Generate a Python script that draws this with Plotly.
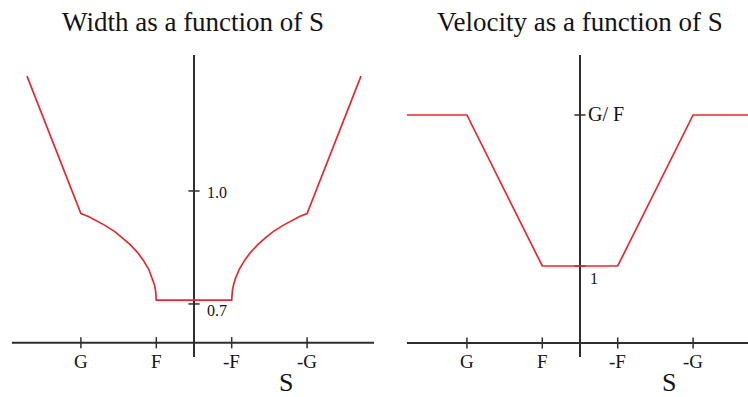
import plotly.graph_objects as go

# --- data -------------------------------------------------------------
# S positions of the marked values on the horizontal axes
s_tick_pos = [-3, -1, 1, 3]
s_tick_labels = ["G", "F", "-F", "-G"]

# Width as a function of S
width_s = [-4.43, -3.0, -2.8, -2.6, -2.35, -2.1, -1.9, -1.7, -1.5, -1.35, -1.2, -1.1, -1.05, -1.02, -1.01, -1.0,
           1.0, 1.01, 1.02, 1.05, 1.1, 1.2, 1.35, 1.5, 1.7, 1.9, 2.1, 2.35, 2.6, 2.8, 3.0, 4.43]
width_w = [1.305, 0.940, 0.932, 0.922, 0.908, 0.892, 0.876, 0.858, 0.837, 0.817, 0.792, 0.768, 0.751, 0.736, 0.728, 0.710,
           0.710, 0.728, 0.736, 0.751, 0.768, 0.792, 0.817, 0.837, 0.858, 0.876, 0.892, 0.908, 0.922, 0.932, 0.940, 1.305]
width_tick_vals = [1.0, 0.7]
width_tick_labels = ["1.0", "0.7"]

# Velocity as a function of S
vel_s = [-4.59, -3.0, -1.0, 1.0, 3.0, 4.6]
vel_v = [3.0, 3.0, 1.0, 1.0, 3.0, 3.0]
vel_tick_vals = [3.0, 1.0]
vel_tick_labels = ["G/ F", "1"]

# --- styling ----------------------------------------------------------
AXIS_COLOR = "#2e2e2e"
CURVE_COLOR = "#e8282e"
TEXT_COLOR = "#141414"
SERIF = "Liberation Serif, Times New Roman, serif"

fig = go.Figure()


def add_panel(xa, ya, h_span, h_level, v_span, curve_x, curve_y, ytick_vals):
    # horizontal S axis
    fig.add_trace(go.Scatter(x=h_span, y=[h_level, h_level], mode="lines",
                             line=dict(color=AXIS_COLOR, width=2),
                             xaxis=xa, yaxis=ya, hoverinfo="skip"))
    # vertical axis through S = 0
    fig.add_trace(go.Scatter(x=[0, 0], y=v_span, mode="lines",
                             line=dict(color=AXIS_COLOR, width=2),
                             xaxis=xa, yaxis=ya, hoverinfo="skip"))
    # tick marks on the S axis
    fig.add_trace(go.Scatter(x=s_tick_pos, y=[h_level] * len(s_tick_pos), mode="markers",
                             marker=dict(symbol="line-ns", size=8,
                                         line=dict(color=AXIS_COLOR, width=1.5)),
                             xaxis=xa, yaxis=ya, hoverinfo="skip"))
    # tick marks on the vertical axis
    fig.add_trace(go.Scatter(x=[0] * len(ytick_vals), y=ytick_vals, mode="markers",
                             marker=dict(symbol="line-ew", size=8,
                                         line=dict(color=AXIS_COLOR, width=1.5)),
                             xaxis=xa, yaxis=ya, hoverinfo="skip"))
    # the curve
    fig.add_trace(go.Scatter(x=curve_x, y=curve_y, mode="lines",
                             line=dict(color=CURVE_COLOR, width=1.7),
                             xaxis=xa, yaxis=ya, hoverinfo="skip"))


add_panel("x", "y", [-4.83, 4.83], 0.597, [1.361, 0.559], width_s, width_w, width_tick_vals)
add_panel("x2", "y2", [-4.59, 4.6], -0.02, [3.795, -0.205], vel_s, vel_v, vel_tick_vals)

annotations = []
# S axis labels
for xr, yr, level in (("x", "y", 0.597), ("x2", "y2", -0.02)):
    for pos, lab in zip(s_tick_pos, s_tick_labels):
        annotations.append(dict(x=pos, y=level, xref=xr, yref=yr, text=lab, showarrow=False,
                                xanchor="center", yanchor="top", yshift=-6,
                                font=dict(family=SERIF, size=19, color=TEXT_COLOR)))

# vertical axis labels, left panel
annotations.append(dict(x=0, y=width_tick_vals[0], xref="x", yref="y", text=width_tick_labels[0],
                        showarrow=False, xanchor="left", yanchor="middle", xshift=11, yshift=-2,
                        font=dict(family=SERIF, size=16, color=TEXT_COLOR)))
annotations.append(dict(x=0, y=width_tick_vals[1], xref="x", yref="y", text=width_tick_labels[1],
                        showarrow=False, xanchor="left", yanchor="middle", xshift=11, yshift=-7,
                        font=dict(family=SERIF, size=16, color=TEXT_COLOR)))
# vertical axis labels, right panel
annotations.append(dict(x=0, y=vel_tick_vals[0], xref="x2", yref="y2", text=vel_tick_labels[0],
                        showarrow=False, xanchor="left", yanchor="middle", xshift=6, yshift=1,
                        font=dict(family=SERIF, size=20, color=TEXT_COLOR)))
annotations.append(dict(x=0, y=vel_tick_vals[1], xref="x2", yref="y2", text=vel_tick_labels[1],
                        showarrow=False, xanchor="left", yanchor="middle", xshift=8, yshift=-12,
                        font=dict(family=SERIF, size=16, color=TEXT_COLOR)))

# "S" axis titles
annotations.append(dict(x=286 / 748, y=1 - 382 / 397, xref="paper", yref="paper", text="S",
                        showarrow=False, xanchor="center", yanchor="middle",
                        font=dict(family=SERIF, size=26, color=TEXT_COLOR)))
annotations.append(dict(x=669 / 748, y=1 - 382 / 397, xref="paper", yref="paper", text="S",
                        showarrow=False, xanchor="center", yanchor="middle",
                        font=dict(family=SERIF, size=26, color=TEXT_COLOR)))

# panel titles
annotations.append(dict(x=193.5 / 748, y=1 - 22 / 397, xref="paper", yref="paper",
                        text="Width as a function of S", showarrow=False,
                        xanchor="center", yanchor="middle",
                        font=dict(family=SERIF, size=27, color=TEXT_COLOR)))
annotations.append(dict(x=580 / 748, y=1 - 22 / 397, xref="paper", yref="paper",
                        text="Velocity as a function of S", showarrow=False,
                        xanchor="center", yanchor="middle",
                        font=dict(family=SERIF, size=27, color=TEXT_COLOR)))

hidden = dict(visible=False, fixedrange=True)
fig.update_layout(
    width=748, height=397,
    margin=dict(l=0, r=0, t=0, b=0),
    paper_bgcolor="white", plot_bgcolor="white",
    showlegend=False,
    xaxis=dict(domain=[0, 0.5], range=[-5.146, 4.775], **hidden),
    yaxis=dict(domain=[0, 1], range=[0.453, 1.507], **hidden),
    xaxis2=dict(domain=[0.5, 1], range=[-5.464, 4.456], anchor="y2", **hidden),
    yaxis2=dict(domain=[0, 1], range=[-0.735, 4.523], anchor="x2", **hidden),
    annotations=annotations,
)

fig.write_html("out.html", config=dict(displayModeBar=False))
